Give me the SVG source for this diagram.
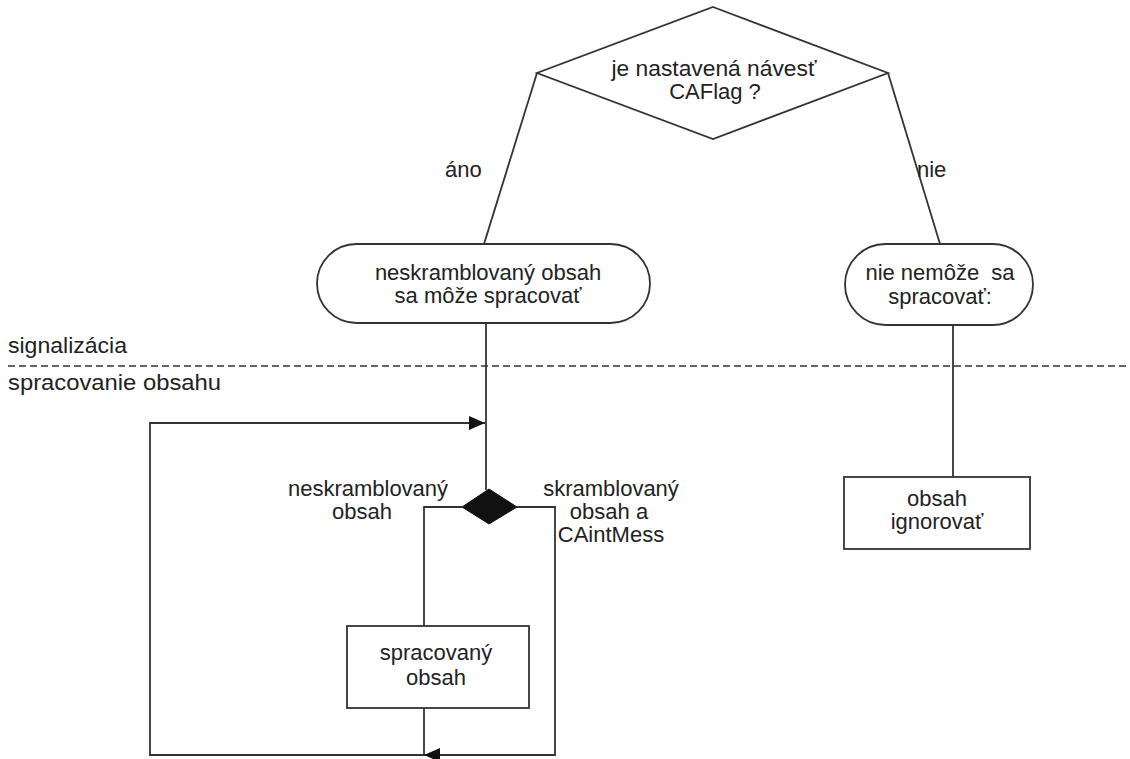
<svg xmlns="http://www.w3.org/2000/svg" width="1130" height="759" viewBox="0 0 1130 759">
  <style>
    .shape { fill: #ffffff; stroke: #333333; stroke-width: 1.8; }
    .line { fill: none; stroke: #333333; stroke-width: 1.8; }
    .dash { fill: none; stroke: #333333; stroke-width: 1.5; stroke-dasharray: 7 4; }
    text { font-family: "Liberation Sans", Arial, sans-serif; font-size: 22px; fill: #222222; }
    .c { text-anchor: middle; }
  </style>
  <defs>
    <marker id="arrow" viewBox="0 0 16 14" refX="16" refY="7" markerWidth="16" markerHeight="14" markerUnits="userSpaceOnUse" orient="auto">
      <path d="M0,0 L16,7 L0,14 Z" fill="#111111"/>
    </marker>
  </defs>

  <rect width="1130" height="759" fill="#ffffff"/>

  <!-- swimlane divider -->
  <g id="lanes">
    <line class="dash" x1="8" y1="366" x2="1130" y2="366"/>
    <text x="8" y="353" textLength="119" lengthAdjust="spacingAndGlyphs">signalizácia</text>
    <text x="8" y="390" textLength="213" lengthAdjust="spacingAndGlyphs">spracovanie obsahu</text>
  </g>

  <g id="connectors">
    <line class="line" x1="537" y1="73" x2="484" y2="244"/>
    <line class="line" x1="888" y1="73" x2="940" y2="244"/>
    <line class="line" x1="486" y1="323" x2="486" y2="490"/>
    <line class="line" x1="953" y1="325" x2="953" y2="477"/>
    <polyline class="line" points="462,507 424,507 424,626"/>
    <polyline class="line" points="517,507 555,507 555,755 424,755" marker-end="url(#arrow)"/>
    <line class="line" x1="424" y1="708" x2="424" y2="755"/>
    <polyline class="line" points="424,755 150,755 150,423 485,423" marker-end="url(#arrow)"/>
    <text x="445" y="177">áno</text>
    <text x="917" y="177">nie</text>
    <text class="c" x="368" y="496">neskramblovaný</text>
    <text class="c" x="362" y="519">obsah</text>
    <text class="c" x="611" y="496">skramblovaný</text>
    <text class="c" x="609" y="519">obsah a</text>
    <text class="c" x="611" y="542">CAintMess</text>
  </g>

  <g id="decision-caflag">
    <polygon class="shape" points="713,7 888,73 713,139 537,73"/>
    <text class="c" x="714" y="76" textLength="205" lengthAdjust="spacingAndGlyphs">je nastavená návesť</text>
    <text class="c" x="715" y="99">CAFlag ?</text>
  </g>

  <g id="state-unscrambled">
    <rect class="shape" x="317" y="244" width="333" height="79" rx="39.5" ry="39.5"/>
    <text class="c" x="488" y="280">neskramblovaný obsah</text>
    <text class="c" x="488" y="303">sa môže spracovať</text>
  </g>

  <g id="state-cannot">
    <rect class="shape" x="845" y="244" width="188" height="81" rx="40.5" ry="40.5"/>
    <text class="c" x="940" y="280" xml:space="preserve">nie nemôže  sa</text>
    <text class="c" x="940" y="304">spracovať:</text>
  </g>

  <g id="merge-diamond">
    <polygon points="489,489 517,507 489,524 462,507" fill="#111111" stroke="#111111" stroke-width="1"/>
  </g>

  <g id="box-processed">
    <rect class="shape" x="347" y="626" width="182" height="82"/>
    <text class="c" x="436" y="660">spracovaný</text>
    <text class="c" x="436" y="685">obsah</text>
  </g>

  <g id="box-ignore">
    <rect class="shape" x="844" y="477" width="186" height="72"/>
    <text class="c" x="937" y="506">obsah</text>
    <text class="c" x="937" y="529">ignorovať</text>
  </g>
</svg>
